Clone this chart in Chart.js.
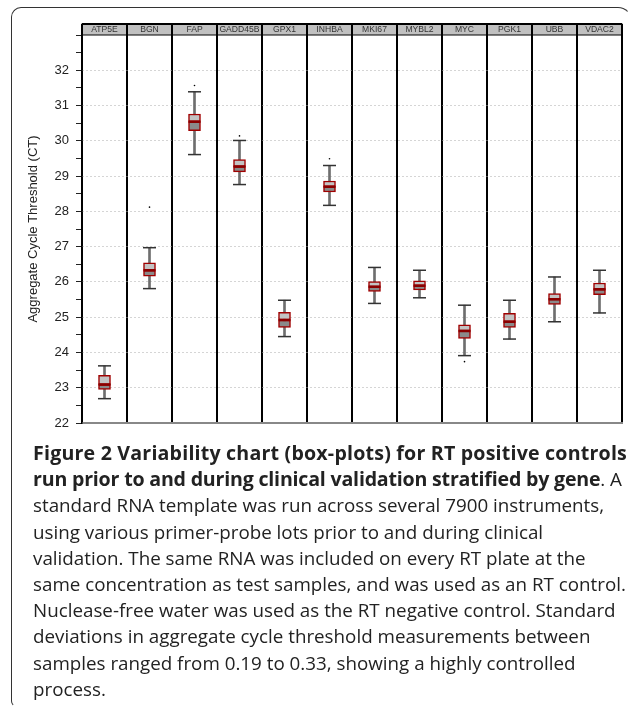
<!DOCTYPE html>
<html>
<head>
<meta charset="utf-8">
<script src="https://cdn.jsdelivr.net/npm/chart.js@4.4.1/dist/chart.umd.min.js"></script>
<style>
  html, body { margin: 0; padding: 0; background: #fff; }
  body { width: 632px; height: 713px; position: relative; overflow: hidden; }
  #frame {
    position: absolute; left: 11px; top: 7px; width: 621px; height: 700px;
    box-sizing: border-box;
    border-left: 1.5px solid #333; border-top: 1.5px solid #333;
    border-right: 1.5px solid transparent; border-bottom: 1.5px solid transparent;
    border-top-left-radius: 10px; border-top-right-radius: 14px; border-bottom-left-radius: 6px;
  }
  #chartBox { position: absolute; left: 0; top: 0; width: 632px; height: 440px; }
  #caption {
    position: absolute; left: 33px; top: 440px;
    font-family: "Open Sans", sans-serif; font-size: 18.8px; line-height: 26.2px; color: #222;
  }
  #caption div { white-space: nowrap; }
  #caption b { font-weight: 700; font-size: 19.6px; }
</style>
</head>
<body>
<div id="frame"></div>
<div id="chartBox"><canvas id="ctChart"></canvas></div>
<div id="caption">
  <div><b style="letter-spacing:0.2px">Figure 2 Variability chart (box-plots) for RT positive controls</b></div>
  <div><b style="letter-spacing:-0.2px">run prior to and during clinical validation stratified by gene</b>. A</div>
  <div>standard RNA template was run across several 7900 instruments,</div>
  <div>using various primer-probe lots prior to and during clinical</div>
  <div>validation. The same RNA was included on every RT plate at the</div>
  <div>same concentration as test samples, and was used as an RT control.</div>
  <div>Nuclease-free water was used as the RT negative control. Standard</div>
  <div>deviations in aggregate cycle threshold measurements between</div>
  <div>samples ranged from 0.19 to 0.33, showing a highly controlled</div>
  <div>process.</div>
</div>
<script>
const genes = ['ATP5E', 'BGN', 'FAP', 'GADD45B', 'GPX1', 'INHBA', 'MKI67', 'MYBL2', 'MYC', 'PGK1', 'UBB', 'VDAC2'];
const whiskerLow = [22.69, 25.81, 29.61, 28.76, 24.45, 28.17, 25.39, 25.55, 23.91, 24.38, 24.87, 25.12];
const q1 = [22.95, 26.16, 30.29, 29.12, 24.71, 28.55, 25.73, 25.77, 24.40, 24.71, 25.36, 25.64];
const median = [23.09, 26.33, 30.54, 29.27, 24.92, 28.70, 25.86, 25.89, 24.61, 24.87, 25.51, 25.79];
const q3 = [23.35, 26.54, 30.76, 29.47, 25.14, 28.86, 26.01, 26.03, 24.78, 25.11, 25.67, 25.97];
const whiskerHigh = [23.62, 26.97, 31.39, 30.01, 25.48, 29.30, 26.41, 26.33, 25.34, 25.48, 26.14, 26.33];
const outliers = [null, 28.12, 31.57, 30.14, null, 29.49, null, null, 23.74, null, null, null];
const yTicks = [22, 23, 24, 25, 26, 27, 28, 29, 30, 31, 32];

// gray strip with gene names above the plot
const headerStrip = {
  id: 'headerStrip',
  afterDraw(chart) {
    const ctx = chart.ctx;
    const x = chart.scales.x;
    const area = chart.chartArea;
    const top = 24;
    const half = (x.getPixelForValue(1) - x.getPixelForValue(0)) / 2;
    ctx.save();
    ctx.fillStyle = '#c0c0c0';
    ctx.fillRect(area.left, top, area.right - area.left, area.top - top);
    ctx.strokeStyle = '#000';
    ctx.lineWidth = 1;
    ctx.strokeRect(area.left, top, area.right - area.left, area.top - top);
    ctx.lineWidth = 2;
    ctx.beginPath();
    ctx.moveTo(area.left, top); ctx.lineTo(area.right, top);
    genes.forEach((g, i) => {
      const px = x.getPixelForValue(i) - half;
      ctx.moveTo(px, top); ctx.lineTo(px, area.top);
    });
    ctx.moveTo(area.right, top); ctx.lineTo(area.right, area.top);
    ctx.stroke();
    ctx.fillStyle = '#333';
    ctx.font = '8.6px "Liberation Sans", Arial, sans-serif';
    ctx.textAlign = 'center';
    ctx.textBaseline = 'middle';
    genes.forEach((g, i) => {
      ctx.fillText(g, x.getPixelForValue(i), (top + area.top) / 2 + 0.5);
    });
    ctx.restore();
  }
};

const capStyle = { type: 'line', showLine: false, pointStyle: 'line', pointRadius: 6.5,
  pointBorderColor: '#333', pointBorderWidth: 1.5, order: 2 };

new Chart(document.getElementById('ctChart'), {
  type: 'bar',
  data: {
    labels: genes,
    datasets: [
      { label: 'whisker', data: genes.map((g, i) => [whiskerLow[i], whiskerHigh[i]]),
        backgroundColor: '#6e6e6e', barThickness: 2, grouped: false, order: 5 },
      { label: 'lower', data: genes.map((g, i) => [q1[i], median[i]]),
        backgroundColor: '#8a8a8a', borderColor: '#a00000', borderWidth: 1.5,
        borderSkipped: false, barThickness: 12, grouped: false, order: 3 },
      { label: 'upper', data: genes.map((g, i) => [median[i], q3[i]]),
        backgroundColor: '#c3c3c3', borderColor: '#a00000', borderWidth: 1.5,
        borderSkipped: false, barThickness: 12, grouped: false, order: 3 },
      { label: 'median', type: 'line', showLine: false, data: median, pointStyle: 'line',
        pointRadius: 6, pointBorderColor: '#8b0000', pointBorderWidth: 2.5, order: 1 },
      Object.assign({ label: 'capLow', data: whiskerLow }, capStyle),
      Object.assign({ label: 'capHigh', data: whiskerHigh }, capStyle),
      { label: 'outlier', type: 'line', showLine: false, data: outliers, pointStyle: 'circle',
        pointRadius: 0.8, pointBackgroundColor: '#000', pointBorderColor: '#000',
        pointBorderWidth: 0, order: 2 }
    ]
  },
  options: {
    responsive: true,
    maintainAspectRatio: false,
    animation: false,
    layout: { padding: { left: 12, right: 10, top: 35, bottom: 17 } },
    plugins: { legend: { display: false }, tooltip: { enabled: false } },
    scales: {
      x: {
        offset: true,
        afterFit: s => { s.height = 0; },
        ticks: { display: false },
        grid: { offset: true, color: '#000', lineWidth: 2, drawTicks: false },
        border: { color: '#888', width: 2 }
      },
      y: {
        min: 22, max: 33,
        afterFit: s => { s.width = 70; },
        ticks: {
          stepSize: 0.5, autoSkip: false, padding: 7, color: '#222',
          font: { family: '"Liberation Sans", Arial, sans-serif', size: 13 },
          callback: v => yTicks.includes(v) ? String(v) : ''
        },
        grid: {
          color: c => yTicks.includes(c.tick.value) ? '#aaa' : 'rgba(0,0,0,0)',
          tickColor: '#222', tickLength: 6, tickWidth: 1
        },
        border: { color: '#000', width: 1.5, dash: [1, 3] },
        title: {
          display: true, text: 'Aggregate Cycle Threshold (CT)', color: '#222',
          font: { family: '"Liberation Sans", Arial, sans-serif', size: 13 },
          padding: { top: 14, bottom: 0 }
        }
      }
    }
  },
  plugins: [headerStrip]
});
</script>
</body>
</html>
